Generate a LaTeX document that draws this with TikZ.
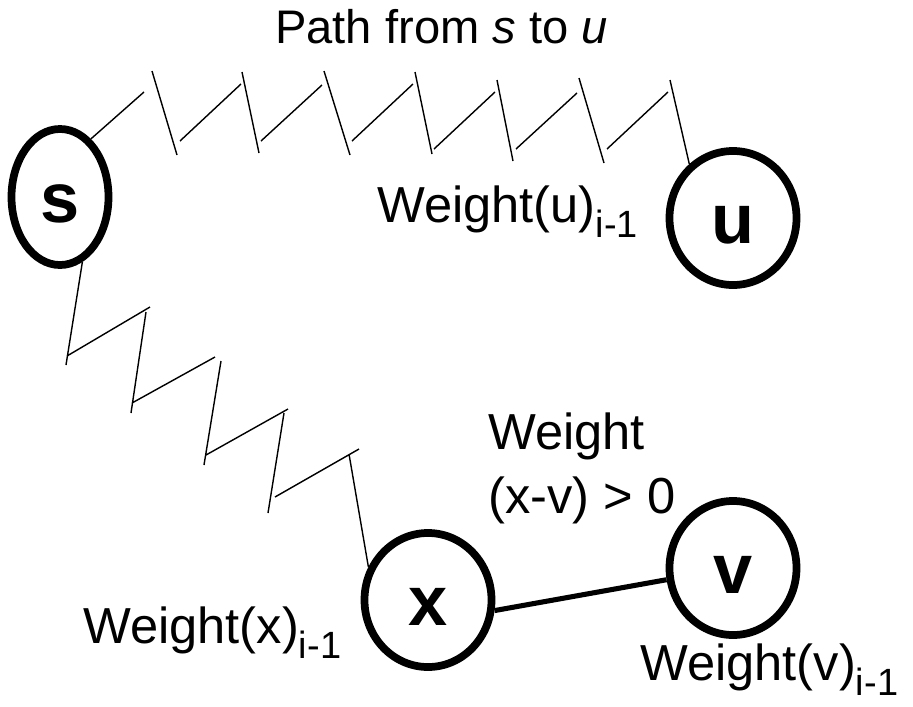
\documentclass[tikz,border=0pt]{standalone}
\usepackage{fontspec}
\setmainfont{Liberation Sans}
\usetikzlibrary{shapes.geometric}
\definecolor{ink}{HTML}{000000}

\newcommand{\lowidx}[1]{\raisebox{-0.38cm}{\fontsize{27}{30}\selectfont #1}}

\begin{document}
\begin{tikzpicture}[x=0.025cm,y=-0.025cm,
  vertex/.style={ellipse, draw=ink, line width=5.5pt, inner sep=0pt,
    minimum width=3.175cm, minimum height=3.35cm, text height=1.25cm, text depth=0pt,
    font=\fontsize{50}{60}\selectfont\bfseries},
  zig/.style={draw=ink, line width=1pt},
  lbl/.style={anchor=base west, inner sep=0pt, text=ink, font=\fontsize{36}{45}\selectfont}]
\useasboundingbox (0,0) rectangle (913,706);

% nodes
\node[vertex, minimum width=2.425cm, minimum height=3.4cm] (s) at (60,197) {s};
\node[vertex] (u) at (733,218) {u};
\node[vertex] (x) at (428,600) {x};
\node[vertex] (v) at (733,568) {v};

% labels
\node[lbl, font=\fontsize{33.5}{40}\selectfont] (title) at (275,43) {Path from \textit{s} to \textit{u}};
\node[lbl] (wu) at (377,222) {Weight(u)\lowidx{i-1}};
\node[lbl] (wx) at (83,643) {Weight(x)\lowidx{i-1}};
\node[lbl, align=left] (wxv) at (488,513) {Weight\\(x-v) > 0};
\node[lbl] (wv) at (640,680) {Weight(v)\lowidx{i-1}};

% path s to u
\draw[zig] (s.62) -- (144,92) (152,71) -- (177,155) (180,141) -- (241,84)
  (242,72) -- (259,153) (261,141) -- (322,85) (324,71) -- (350,155)
  (352,141) -- (413,84) (415,72) -- (432,154) (434,149) -- (495,92)
  (497,80) -- (513,161) (516,149) -- (577,93) (579,78) -- (604,163)
  (607,149) -- (668,92) (670,80) -- (u.129);
% path s to x
\draw[zig] (s.-71) -- (66,365) (67,356) -- (150,307) (146,312) -- (131,413)
  (132,403) -- (215,357) (221,361) -- (204,465) (206,455) -- (288,409)
  (284,413) -- (268,513) (275,497) -- (359,449) (349,454) -- (x.151);
% edge x to v
\draw[draw=ink, line width=3.6pt] (x.-9) -- (v.190);
\end{tikzpicture}
\end{document}
